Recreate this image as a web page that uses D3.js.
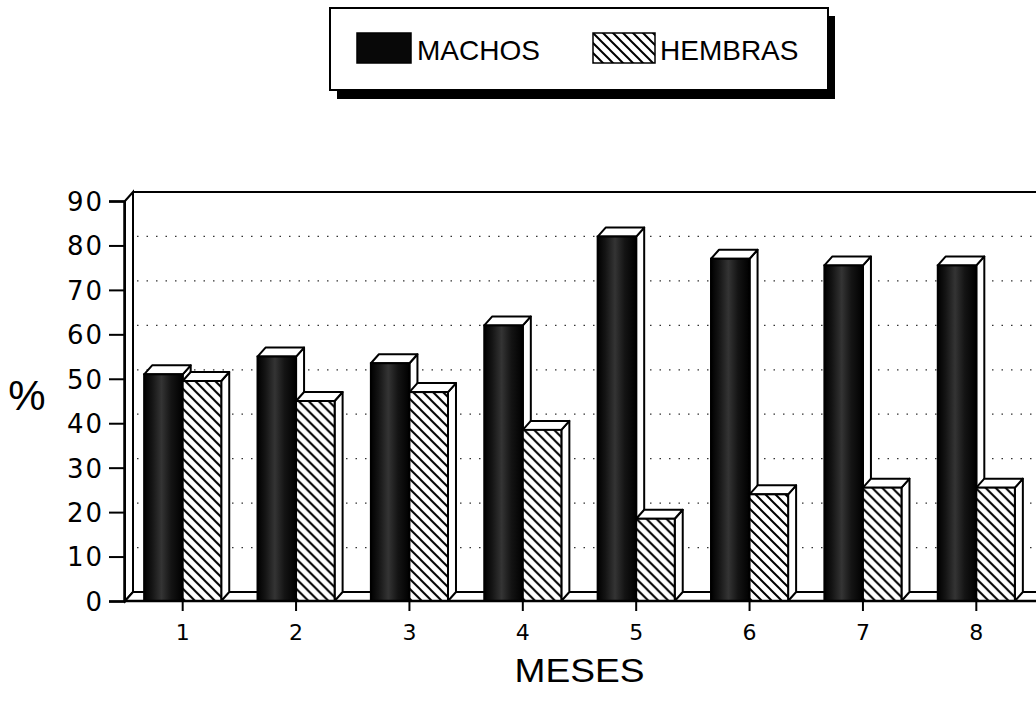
<!DOCTYPE html>
<html>
<head>
<meta charset="utf-8">
<script src="https://cdn.jsdelivr.net/npm/d3@7/dist/d3.min.js"></script>
<style>
  html, body { margin: 0; padding: 0; background: #fff; }
  svg { display: block; }
  text { font-family: 'Liberation Sans', Arial, sans-serif; fill: #000; }
</style>
</head>
<body>
<script>
// data
var months = ['1', '2', '3', '4', '5', '6', '7', '8'];
var series = ['MACHOS', 'HEMBRAS'];
var machos = [51, 55, 53.5, 62, 82, 77, 75.5, 75.5];
var hembras = [49.5, 45, 47, 38.5, 18.5, 24, 25.5, 25.5];
var yTicks = [0, 10, 20, 30, 40, 50, 60, 70, 80, 90];

var w = 1036;
var h = 702;
var dx = 8, dy = 9;   // 3d depth

var svg = d3.select('body')
            .append('svg')
            .attr('width', w)
            .attr('height', h);

var defs = svg.append('defs');

var grad = defs.append('linearGradient')
               .attr('id', 'dark')
               .attr('x1', '0').attr('x2', '1').attr('y1', '0').attr('y2', '0');
grad.append('stop').attr('offset', '0%').attr('stop-color', '#000');
grad.append('stop').attr('offset', '20%').attr('stop-color', '#141414');
grad.append('stop').attr('offset', '45%').attr('stop-color', '#343434');
grad.append('stop').attr('offset', '70%').attr('stop-color', '#141414');
grad.append('stop').attr('offset', '100%').attr('stop-color', '#000');

var hatch = defs.append('pattern')
                .attr('id', 'hatch')
                .attr('patternUnits', 'userSpaceOnUse')
                .attr('width', 10)
                .attr('height', 10);
hatch.append('rect').attr('width', 10).attr('height', 10).attr('fill', '#fff');
hatch.append('path')
     .attr('d', 'M-1,-1L11,11M-2,8L2,12M8,-2L12,2')
     .attr('stroke', '#000')
     .attr('stroke-width', 2);

var x = d3.scaleBand()
          .domain(months)
          .range([126, 1033])
          .paddingInner(0.32)
          .paddingOuter(0.16);

var x1 = d3.scaleBand()
           .domain(series)
           .range([0, x.bandwidth()]);

var y = d3.scaleLinear()
          .domain([0, 90])
          .range([601, 201]);

var x0 = x.range()[0] - 1;
var xEnd = w + 10;
var y0 = y(0);

// left wall
svg.append('polygon')
   .attr('points', [[x0, y0], [x0, y(90)], [x0 + dx, y(90) - dy], [x0 + dx, y0 - dy]].join(' '))
   .attr('fill', '#fff')
   .attr('stroke', '#000')
   .attr('stroke-width', 2);

// top border of the back wall
svg.append('line')
   .attr('x1', x0 + dx).attr('x2', xEnd)
   .attr('y1', y(90) - dy).attr('y2', y(90) - dy)
   .attr('stroke', '#000')
   .attr('stroke-width', 2);

// dotted grid on the back wall
svg.append('g')
   .selectAll('line')
   .data(yTicks.filter(function(d){ return d > 0 && d < 90; }))
   .enter()
   .append('line')
   .attr('x1', x0 + dx + 4).attr('x2', xEnd)
   .attr('y1', function(d){ return y(d) - dy; })
   .attr('y2', function(d){ return y(d) - dy; })
   .attr('stroke', '#333')
   .attr('stroke-width', 1.3)
   .attr('stroke-dasharray', '1.5,8');

// floor
svg.append('polygon')
   .attr('points', [[x0, y0], [x0 + dx, y0 - dy], [xEnd + dx, y0 - dy], [xEnd, y0]].join(' '))
   .attr('fill', '#fff')
   .attr('stroke', '#000')
   .attr('stroke-width', 2);

// bars
var rows = months.map(function(m, i){
    return [
        {month: m, key: 'MACHOS', value: machos[i], fill: 'url(#dark)'},
        {month: m, key: 'HEMBRAS', value: hembras[i], fill: 'url(#hatch)'}
    ];
});

var groups = svg.append('g')
                .selectAll('g')
                .data(rows)
                .enter()
                .append('g')
                .attr('transform', function(d){ return 'translate(' + x(d[0].month) + ',0)'; });

var bars = groups.selectAll('g')
                 .data(function(d){ return d; })
                 .enter()
                 .append('g');

var bw = x1.bandwidth();

bars.append('polygon')   // side
    .attr('points', function(d){
        var bx = x1(d.key), by = y(d.value);
        return [[bx + bw, by], [bx + bw + dx, by - dy], [bx + bw + dx, y0 - dy], [bx + bw, y0]].join(' ');
    })
    .attr('fill', '#fff')
    .attr('stroke', '#000')
    .attr('stroke-width', 2)
    .attr('stroke-linejoin', 'round');

bars.append('polygon')   // top
    .attr('points', function(d){
        var bx = x1(d.key), by = y(d.value);
        return [[bx, by], [bx + dx, by - dy], [bx + bw + dx, by - dy], [bx + bw, by]].join(' ');
    })
    .attr('fill', '#fff')
    .attr('stroke', '#000')
    .attr('stroke-width', 2)
    .attr('stroke-linejoin', 'round');

bars.append('rect')      // front
    .attr('x', function(d){ return x1(d.key); })
    .attr('y', function(d){ return y(d.value); })
    .attr('width', bw)
    .attr('height', function(d){ return y0 - y(d.value); })
    .attr('fill', function(d){ return d.fill; })
    .attr('stroke', '#000')
    .attr('stroke-width', 2);

// axes
var yAxis = svg.append('g')
               .attr('transform', 'translate(' + (x0 - 1) + ',0)')
               .call(d3.axisLeft(y).tickValues(yTicks).tickSize(15).tickPadding(5));
yAxis.select('.domain').attr('stroke-width', 2.5);
yAxis.selectAll('.tick line').attr('stroke-width', 2);
yAxis.selectAll('text')
     .style('font-family', "'DejaVu Sans', sans-serif")
     .style('font-size', '26px')
     .style('letter-spacing', '2px')
     .attr('dy', '0.36em');

var xAxis = svg.append('g')
               .attr('transform', 'translate(0,' + y0 + ')')
               .call(d3.axisBottom(x).tickSize(10).tickPadding(13));
xAxis.select('.domain').remove();
xAxis.selectAll('.tick line').attr('stroke-width', 2);
xAxis.selectAll('text')
     .style('font-family', "'DejaVu Sans', sans-serif")
     .style('font-size', '22px');

svg.append('line')
   .attr('x1', x0 - 1).attr('x2', xEnd)
   .attr('y1', y0).attr('y2', y0)
   .attr('stroke', '#000')
   .attr('stroke-width', 2.5);

svg.append('text')
   .attr('x', (x.range()[0] + x.range()[1]) / 2)
   .attr('y', 682)
   .attr('text-anchor', 'middle')
   .attr('textLength', 130)
   .attr('lengthAdjust', 'spacingAndGlyphs')
   .style('font-size', '34px')
   .text('MESES');

svg.append('text')
   .attr('x', 27)
   .attr('y', 410)
   .attr('text-anchor', 'middle')
   .style('font-size', '42px')
   .text('%');

// legend
var legend = svg.append('g');
legend.append('rect')
      .attr('x', 337).attr('y', 16)
      .attr('width', 498).attr('height', 83)
      .attr('fill', '#000');
legend.append('rect')
      .attr('x', 330).attr('y', 8)
      .attr('width', 498).attr('height', 82)
      .attr('fill', '#fff')
      .attr('stroke', '#000')
      .attr('stroke-width', 2);

var legendItems = [
    {label: series[0], fill: '#080808', sx: 357, sw: 54, tx: 417},
    {label: series[1], fill: 'url(#hatch)', sx: 593, sw: 62, tx: 660}
];

legend.selectAll('.sw')
      .data(legendItems)
      .enter()
      .append('rect')
      .attr('class', 'sw')
      .attr('x', function(d){ return d.sx; })
      .attr('y', 33)
      .attr('width', function(d){ return d.sw; })
      .attr('height', 30)
      .attr('fill', function(d){ return d.fill; })
      .attr('stroke', '#000')
      .attr('stroke-width', 1.5);

legend.selectAll('.lt')
      .data(legendItems)
      .enter()
      .append('text')
      .attr('class', 'lt')
      .attr('x', function(d){ return d.tx; })
      .attr('y', 60)
      .style('font-size', '28px')
      .text(function(d){ return d.label; });
</script>
</body>
</html>
